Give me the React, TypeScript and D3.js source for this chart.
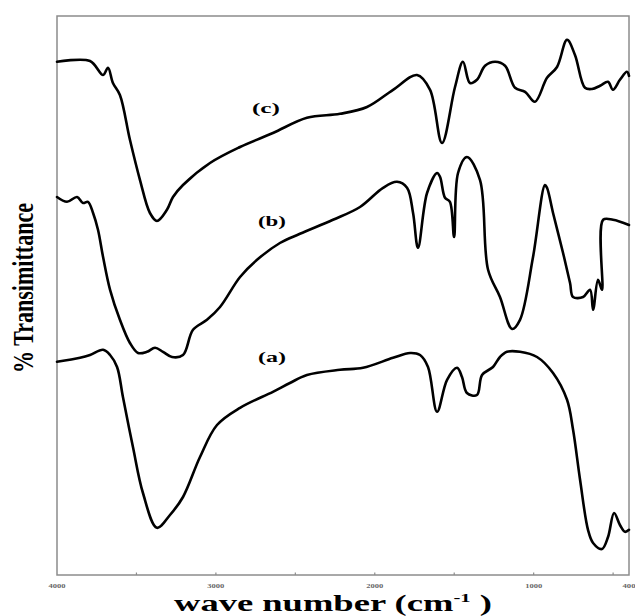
import React, { useEffect, useRef } from 'react';
import * as d3 from 'd3';

type Pt = [number, number];

// FTIR spectra, [wave number (cm-1), transmittance (arbitrary offset units)]
const spectrumA: Pt[] = [
  [4000, 53.3], [3855, 54.3], [3792, 55], [3710, 56.3], [3666, 55], [3622, 52],
  [3585, 44.5], [3522, 32], [3459, 20.5], [3371, 11.8], [3289, 15], [3207, 19.5],
  [3100, 29.5], [2993, 37.5], [2848, 41.8], [2641, 45.8], [2534, 48], [2427, 50],
  [2219, 51.3], [2074, 51.8], [1885, 54.3], [1778, 55.5], [1715, 55], [1665, 52],
  [1608, 40.8], [1545, 48.8], [1482, 51.8], [1451, 49.5], [1420, 45.5], [1357, 45],
  [1325, 50], [1256, 52], [1212, 54.5], [1168, 55.8], [1086, 55.8], [979, 54.5],
  [878, 50.5], [790, 43.8], [752, 36.3], [708, 23.8], [658, 11.3], [626, 8],
  [570, 6.5], [532, 9.5], [494, 15.5], [457, 12.5], [425, 10.8], [400, 11.3],
];

const spectrumB: Pt[] = [
  [4000, 94.5], [3937, 93.3], [3874, 94.5], [3836, 93], [3805, 93.3], [3773, 90.5],
  [3742, 86.3], [3710, 79.5], [3666, 71.3], [3604, 63.8], [3541, 58], [3490, 55.5],
  [3434, 55.8], [3383, 56.8], [3333, 55.8], [3276, 54.5], [3207, 55], [3144, 61.3],
  [3056, 63.8], [2974, 67], [2848, 74.5], [2741, 78.8], [2597, 83], [2471, 85.3],
  [2263, 88.8], [2093, 92], [1948, 96.8], [1860, 98.3], [1797, 96.8], [1759, 90.5],
  [1728, 81.8], [1671, 95.5], [1608, 100.5], [1589, 99.5], [1558, 94.3], [1527, 93.3],
  [1501, 84.5], [1476, 100.5], [1420, 104.5], [1338, 98.8], [1287, 76.3], [1212, 69.5],
  [1136, 61.5], [1086, 63.8], [1004, 79.5], [929, 97.5], [916, 96.8], [878, 90.5],
  [815, 80.5], [771, 73], [752, 69.5], [689, 69.5], [645, 71.3], [626, 66.3],
  [595, 73.8], [570, 71.3], [563, 88.8], [501, 88.8], [400, 87.5],
];

const spectrumC: Pt[] = [
  [4000, 128.3], [3792, 128.5], [3710, 125], [3679, 126.8], [3648, 123], [3604, 120],
  [3541, 108.8], [3478, 98.8], [3415, 90.5], [3371, 88.5], [3308, 91.3], [3270, 94.5],
  [3207, 97.5], [3037, 103], [2848, 107], [2641, 110.5], [2427, 114.3], [2219, 115.3],
  [2049, 117], [1885, 121.3], [1734, 125], [1652, 121.3], [1577, 108], [1495, 122],
  [1445, 128.3], [1401, 123], [1357, 123.8], [1306, 127.3], [1243, 128.3], [1180, 127.3],
  [1117, 121.8], [1054, 120.8], [992, 118.3], [916, 124.3], [853, 127], [790, 133.8],
  [740, 130], [677, 121.8], [633, 121.5], [582, 122.3], [532, 123.3], [501, 121.3],
  [457, 123.8], [413, 125.8], [400, 124.8],
];

const spectra = [spectrumA, spectrumB, spectrumC];
const spectrumNames = ['(a)', '(b)', '(c)'];
const tickLabels = [4000, 3000, 2000, 1000, 400];
const tickMarks = [3500, 3000, 2500, 2000, 1500, 1000, 500];

const W = 635;
const H = 616;

export default function App() {
  const svgRef = useRef<SVGSVGElement>(null);

  useEffect(() => {
    if (!svgRef.current) return;
    const svg = d3.select(svgRef.current);
    svg.selectAll('*').remove();

    const left = 57, right = 629, top = 16, bottom = 575;

    const x = d3.scaleLinear().domain([4000, 400]).range([left, right]);
    const y = d3.scaleLinear().domain([0, 140]).range([bottom, bottom - 560]);

    // frame
    svg.append('rect')
      .attr('x', left)
      .attr('y', top)
      .attr('width', right - left)
      .attr('height', bottom - top)
      .attr('fill', 'none')
      .attr('stroke', '#8c8c8c')
      .attr('stroke-width', 1.5);

    // small ticks on the bottom edge
    svg.selectAll('.tick-mark')
      .data(tickMarks)
      .enter()
      .append('line')
      .attr('class', 'tick-mark')
      .attr('x1', d => x(d))
      .attr('x2', d => x(d))
      .attr('y1', bottom)
      .attr('y2', bottom - 2.5)
      .attr('stroke', '#8c8c8c')
      .attr('stroke-width', 1.2);

    svg.selectAll('.tick-label')
      .data(tickLabels)
      .enter()
      .append('text')
      .attr('class', 'tick-label')
      .attr('x', d => x(d))
      .attr('y', 588)
      .attr('text-anchor', 'middle')
      .attr('font-family', 'Liberation Serif')
      .attr('font-weight', 'bold')
      .attr('font-size', 7)
      .attr('fill', '#666')
      .attr('textLength', d => (d === 400 ? 13 : 17))
      .attr('lengthAdjust', 'spacingAndGlyphs')
      .text(d => d);

    const line = d3.line<Pt>()
      .x(d => x(d[0]))
      .y(d => y(d[1]))
      .curve(d3.curveCatmullRom.alpha(0.5));

    svg.selectAll('.spectrum')
      .data(spectra)
      .enter()
      .append('path')
      .attr('class', 'spectrum')
      .attr('d', d => line(d))
      .attr('fill', 'none')
      .attr('stroke', '#000')
      .attr('stroke-width', 2.6)
      .attr('stroke-linejoin', 'round')
      .attr('stroke-linecap', 'round');

    // curve labels
    const labelPos: Pt[] = [[2647, 54.5], [2647, 88.5], [2685, 116.8]];
    svg.selectAll('.spectrum-label')
      .data(spectrumNames)
      .enter()
      .append('text')
      .attr('class', 'spectrum-label')
      .attr('x', (_, i) => x(labelPos[i][0]))
      .attr('y', (_, i) => y(labelPos[i][1]) + 5)
      .attr('text-anchor', 'middle')
      .attr('font-family', 'Liberation Serif')
      .attr('font-weight', 'bold')
      .attr('font-size', 14)
      .attr('textLength', 28)
      .attr('lengthAdjust', 'spacingAndGlyphs')
      .text(d => d);

    // x axis title
    const xt = svg.append('text')
      .attr('x', 333)
      .attr('y', 611)
      .attr('text-anchor', 'middle')
      .attr('font-family', 'Liberation Serif')
      .attr('font-weight', 'bold')
      .attr('font-size', 23)
      .attr('textLength', 318)
      .attr('lengthAdjust', 'spacingAndGlyphs');
    xt.append('tspan').text('wave number (cm');
    xt.append('tspan').attr('font-size', 13).attr('dy', -9).text('-1');
    xt.append('tspan').attr('dy', 9).text(' )');

    // y axis title
    svg.append('text')
      .attr('transform', 'translate(33,288) rotate(-90)')
      .attr('text-anchor', 'middle')
      .attr('font-family', 'Liberation Serif')
      .attr('font-weight', 'bold')
      .attr('font-size', 29)
      .attr('textLength', 170)
      .attr('lengthAdjust', 'spacingAndGlyphs')
      .text('% Transimittance');
  }, []);

  return (
    <svg
      ref={svgRef}
      width={W}
      height={H}
      style={{ position: 'absolute', left: 0, top: 0, background: '#fff' }}
    />
  );
}
